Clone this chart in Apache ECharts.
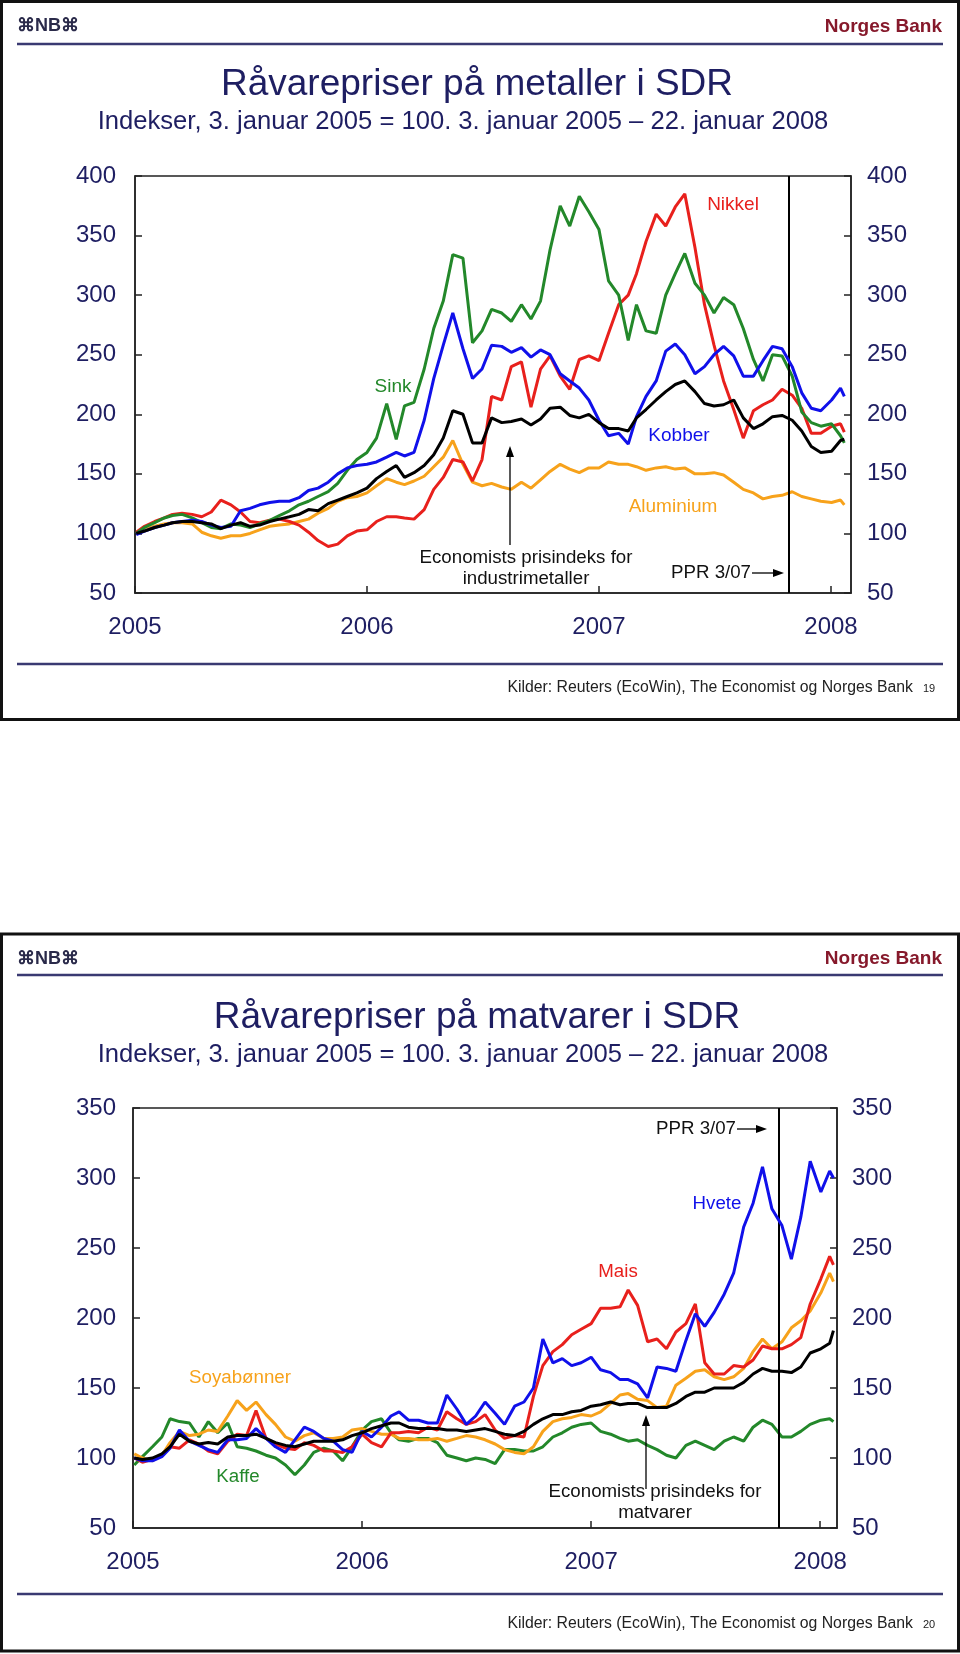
<!DOCTYPE html>
<html><head><meta charset="utf-8">
<script src="https://cdn.jsdelivr.net/npm/echarts@6/dist/echarts.min.js"></script>
<style>html,body{margin:0;padding:0;background:#fff}#c{width:960px;height:1654px}</style>
</head><body><div id="c"></div>
<script>
// ---------- data ----------
const dates = [
"2005-01-03","2005-01-16","2005-02-01","2005-02-16","2005-03-01","2005-03-16","2005-04-01","2005-04-16","2005-05-01","2005-05-16","2005-06-01","2005-06-16",
"2005-07-01","2005-07-16","2005-08-01","2005-08-16","2005-09-01","2005-09-16","2005-10-01","2005-10-16","2005-11-01","2005-11-16","2005-12-01","2005-12-16",
"2006-01-01","2006-01-16","2006-02-01","2006-02-16","2006-03-01","2006-03-16","2006-04-01","2006-04-16","2006-05-01","2006-05-16","2006-06-01","2006-06-16",
"2006-07-01","2006-07-16","2006-08-01","2006-08-16","2006-09-01","2006-09-16","2006-10-01","2006-10-16","2006-11-01","2006-11-16","2006-12-01","2006-12-16",
"2007-01-01","2007-01-16","2007-02-01","2007-02-16","2007-03-01","2007-03-16","2007-04-01","2007-04-16","2007-05-01","2007-05-16","2007-06-01","2007-06-16",
"2007-07-01","2007-07-16","2007-08-01","2007-08-16","2007-09-01","2007-09-16","2007-10-01","2007-10-16","2007-11-01","2007-11-16","2007-12-01","2007-12-16",
"2008-01-02","2008-01-16","2008-01-22"];
const yearLabels = ["2005","2006","2007","2008"];
const pprDate = "2007-10-27";

// Chart 1: metals
const econMetals = [100,102,105,107,109,110,110,109,108,104,107,109,106,107,110,112,114,116,120,119,125,128,131,134,
 138,146,152,157,147,151,157,166,180,203,200,176,176,197,193,194,196,191,196,205,206,199,197,200,
 193,188,188,186,197,204,212,219,225,228,219,209,207,208,212,197,188,192,198,199,195,186,173,168,
 169,178,179];
const nikkel = [101,106,110,113,116,117,116,114,118,128,124,118,110,109,111,112,110,107,101,94,89,91,98,102,
 103,110,114,114,113,112,120,137,147,162,160,144,162,215,212,240,244,206,238,249,232,221,246,249,
 245,268,292,300,318,345,368,358,374,385,340,292,258,228,204,180,203,208,212,221,216,205,184,184,
 190,192,185];
const sink = [100,105,109,113,115,116,113,109,105,104,108,107,105,108,111,115,119,124,127,131,135,142,153,162,
 168,180,209,179,207,210,238,272,295,334,331,260,270,288,285,278,292,280,295,338,375,358,383,370,
 355,312,300,262,292,270,268,300,318,335,310,300,285,298,292,272,246,228,250,249,232,202,193,190,
 192,182,176];
const kobber = [99,102,105,107,109,110,111,110,107,105,106,119,121,124,126,127,127,130,136,138,143,150,155,157,
 158,160,164,168,165,168,195,230,258,285,255,230,238,258,257,252,256,248,254,250,234,228,222,212,
 195,182,184,175,198,215,228,253,259,250,234,240,250,257,249,232,232,245,257,255,240,218,205,203,
 212,222,215];
const aluminium = [100,103,106,108,109,109,108,101,98,96,98,98,100,103,106,107,108,110,112,117,121,127,130,131,
 134,140,146,143,141,144,148,156,164,178,158,143,140,142,139,137,143,138,145,152,158,154,151,155,
 155,160,158,158,156,153,155,156,154,155,150,150,151,149,143,137,134,129,131,132,135,131,129,127,
 126,128,124];

// Chart 2: food
const econFood = [100,99,100,103,108,117,112,110,111,110,115,116,116,117,114,111,109,108,110,112,112,112,113,116,
 118,121,123,125,125,122,121,121,121,120,120,119,120,121,119,117,116,119,124,128,131,131,133,134,
 137,138,140,138,139,139,136,136,136,139,144,147,147,150,150,150,154,160,164,162,162,161,165,175,
 178,182,191];
const soya = [103,100,98,102,111,119,116,117,120,119,130,141,134,140,131,124,115,112,116,118,114,114,115,120,
 121,119,117,117,114,114,113,113,114,112,114,116,115,113,110,106,104,103,108,119,126,128,129,131,
 130,133,139,145,146,142,141,136,137,152,157,162,163,158,156,158,164,176,185,178,183,193,198,205,
 218,232,226];
const mais = [100,97,99,102,108,107,113,110,105,103,112,117,116,134,114,110,107,106,111,109,105,105,104,108,
 117,111,108,118,118,119,118,122,120,133,128,124,126,131,120,114,116,115,144,166,176,181,188,192,
 196,207,207,208,220,209,183,185,178,190,196,210,168,160,160,166,165,170,180,178,178,181,186,210,
 228,244,238];
const hvete = [100,98,98,101,107,120,112,109,106,104,113,113,114,121,114,108,104,113,122,119,114,112,106,104,
 119,115,122,130,133,127,127,125,125,145,135,124,130,140,132,124,137,140,150,185,168,171,166,168,
 172,163,161,156,156,153,143,165,164,162,184,203,194,204,217,232,265,282,308,278,266,242,272,312,
 290,305,300];
const kaffe = [95,101,108,115,128,126,125,115,126,118,125,108,107,105,102,100,95,88,95,104,107,105,98,108,
 120,126,128,118,113,112,114,114,111,102,100,98,100,99,96,106,106,105,105,108,115,118,122,124,
 125,119,117,114,112,113,109,106,102,100,109,112,109,106,112,115,112,122,127,124,115,115,119,124,
 127,128,126];

// ---------- helpers ----------
const DAY = 86400000, T0 = Date.UTC(2005, 0, 1);
const dayOf = d => (Date.parse(d) - T0) / DAY;
const pairs = vals => dates.map((d, i) => [dayOf(d), vals[i]]);

const NAVY = '#1e1e62';
const FONT = '"Liberation Sans", Arial, Helvetica, sans-serif';
const RED = '#e8201c', GREEN = '#23882a', BLUE = '#1010ea', ORANGE = '#f7a21b', BLACK = '#000000';
const FRAME = '#222222';

function xAxisFor(gi, max) {
  return {
    type: 'value', gridIndex: gi, min: 0, max: max, interval: 365,
    axisLine: { show: true, lineStyle: { color: FRAME, width: 1.5 } },
    axisTick: { show: true, inside: true, length: 7, lineStyle: { color: FRAME, width: 1.5 } },
    axisLabel: { color: NAVY, fontSize: 24, fontFamily: FONT, margin: 22, showMaxLabel: false,
      formatter: v => (Math.abs(v % 365) < 1e-6 ? yearLabels[Math.round(v / 365)] : '') },
    splitLine: { show: false }
  };
}
function yAxisFor(gi, pos, max, margin) {
  return {
    type: 'value', gridIndex: gi, position: pos, min: 50, max: max, interval: 50,
    axisLine: { show: true, lineStyle: { color: FRAME, width: 1.5 } },
    axisTick: { show: true, inside: true, length: 7, lineStyle: { color: FRAME, width: 1.5 } },
    axisLabel: { color: NAVY, fontSize: 24, fontFamily: FONT, margin: margin },
    splitLine: { show: false }
  };
}
function line(name, vals, color, xi, yi, z, extra) {
  return Object.assign({
    type: 'line', name: name, data: pairs(vals), xAxisIndex: xi, yAxisIndex: yi,
    showSymbol: false, symbol: 'none', silent: true, z: z,
    lineStyle: { color: color, width: 3 }, itemStyle: { color: color }
  }, extra || {});
}
const pprMark = {
  silent: true, symbol: 'none', label: { show: false }, animation: false,
  lineStyle: { color: '#000', width: 2, type: 'solid' },
  data: [{ xAxis: dayOf(pprDate) }]
};

// ---------- graphic helpers ----------
function txt(x, y, text, size, fill, align, weight) {
  return { type: 'text', x: x, y: y, z: 100, silent: true,
    style: { text: text, fill: fill, fontSize: size, fontFamily: FONT, fontWeight: weight || 'normal',
      textAlign: align || 'center', textVerticalAlign: 'middle' } };
}
function hline(x1, x2, y, w, color) {
  return { type: 'line', z: 100, silent: true, shape: { x1: x1, y1: y, x2: x2, y2: y },
    style: { stroke: color, lineWidth: w } };
}
function vline(x, y1, y2, w, color) {
  return { type: 'line', z: 100, silent: true, shape: { x1: x, y1: y1, x2: x, y2: y2 },
    style: { stroke: color, lineWidth: w } };
}
function poly(points) {
  return { type: 'polygon', z: 100, silent: true, shape: { points: points }, style: { fill: '#000' } };
}
function panel(top, h, header, footer, title, subtitle, page, titleY, subY, kilderY) {
  return [
    { type: 'rect', z: 100, silent: true, shape: { x: 1.5, y: top, width: 957, height: h },
      style: { fill: 'none', stroke: '#111', lineWidth: 3 } },
    txt(17, top + 25, '⌘NB⌘', 18, '#2a2a4a', 'left', 'bold'),
    txt(942, top + 25, 'Norges Bank', 19, '#86192b', 'right', 'bold'),
    hline(17, 943, header, 2.5, '#3a3a72'),
    txt(477, titleY, title, 37, NAVY, 'center'),
    txt(463, subY, subtitle, 25.6, NAVY, 'center'),
    hline(17, 943, footer, 2.5, '#3a3a72'),
    txt(913, kilderY, 'Kilder: Reuters (EcoWin), The Economist og Norges Bank', 15.8, '#222', 'right'),
    txt(929, kilderY + 1, page, 11, '#222', 'center')
  ];
}

const SUB = 'Indekser, 3. januar 2005 = 100. 3. januar 2005 – 22. januar 2008';

const graphics = [].concat(
  panel(1.5, 718, 44, 664, 'Råvarepriser på metaller i SDR', SUB, '19', 85, 122, 688),
  panel(934, 717, 975, 1594, 'Råvarepriser på matvarer i SDR', SUB, '20', 1018, 1055, 1624),
  [
    // chart 1 annotations
    txt(393, 387, 'Sink', 19, GREEN),
    txt(733, 205, 'Nikkel', 19, RED),
    txt(679, 436, 'Kobber', 19, BLUE),
    txt(673, 507, 'Aluminium', 19, ORANGE),
    txt(526, 558, 'Economists prisindeks for', 18.7, '#111'),
    txt(526, 579, 'industrimetaller', 18.7, '#111'),
    vline(510, 545, 454, 1.3, '#000'),
    poly([[510, 446], [506, 457], [514, 457]]),
    txt(751, 573, 'PPR 3/07', 18.7, '#111', 'right'),
    hline(752, 775, 573, 1.3, '#000'),
    poly([[784, 573], [773, 569], [773, 577]]),
    // chart 2 annotations
    txt(717, 1204, 'Hvete', 18.7, BLUE),
    txt(618, 1272, 'Mais', 18.7, RED),
    txt(240, 1378, 'Soyabønner', 18.7, ORANGE),
    txt(238, 1477, 'Kaffe', 18.7, GREEN),
    txt(655, 1492, 'Economists prisindeks for', 18.7, '#111'),
    txt(655, 1513, 'matvarer', 18.7, '#111'),
    vline(646, 1489, 1423, 1.3, '#000'),
    poly([[646, 1415], [642, 1426], [650, 1426]]),
    txt(736, 1129, 'PPR 3/07', 18.7, '#111', 'right'),
    hline(737, 758, 1129, 1.3, '#000'),
    poly([[767, 1129], [756, 1125], [756, 1133]])
  ]
);

const option = {
  animation: false,
  backgroundColor: '#ffffff',
  grid: [
    { left: 135, top: 176, width: 716, height: 417, show: true, borderColor: FRAME, borderWidth: 1.5, backgroundColor: 'transparent' },
    { left: 133, top: 1108, width: 704, height: 420, show: true, borderColor: FRAME, borderWidth: 1.5, backgroundColor: 'transparent' }
  ],
  xAxis: [ xAxisFor(0, 1126.5), xAxisFor(1, 1121.7) ],
  yAxis: [
    yAxisFor(0, 'left', 400, 19), yAxisFor(0, 'right', 400, 16),
    yAxisFor(1, 'left', 350, 17), yAxisFor(1, 'right', 350, 15)
  ],
  series: [
    line('Aluminium', aluminium, ORANGE, 0, 0, 2),
    line('Nikkel', nikkel, RED, 0, 0, 3),
    line('Sink', sink, GREEN, 0, 0, 4),
    line('Kobber', kobber, BLUE, 0, 0, 5),
    line('Economists prisindeks for industrimetaller', econMetals, BLACK, 0, 0, 6, { markLine: pprMark }),
    line('Kaffe', kaffe, GREEN, 1, 2, 2),
    line('Soyabønner', soya, ORANGE, 1, 2, 3),
    line('Mais', mais, RED, 1, 2, 4),
    line('Hvete', hvete, BLUE, 1, 2, 5),
    line('Economists prisindeks for matvarer', econFood, BLACK, 1, 2, 6, { markLine: pprMark })
  ],
  graphic: graphics
};

const chart = echarts.init(document.getElementById('c'), null, { renderer: 'canvas', width: 960, height: 1654 });
chart.setOption(option);
</script>
</body></html>
